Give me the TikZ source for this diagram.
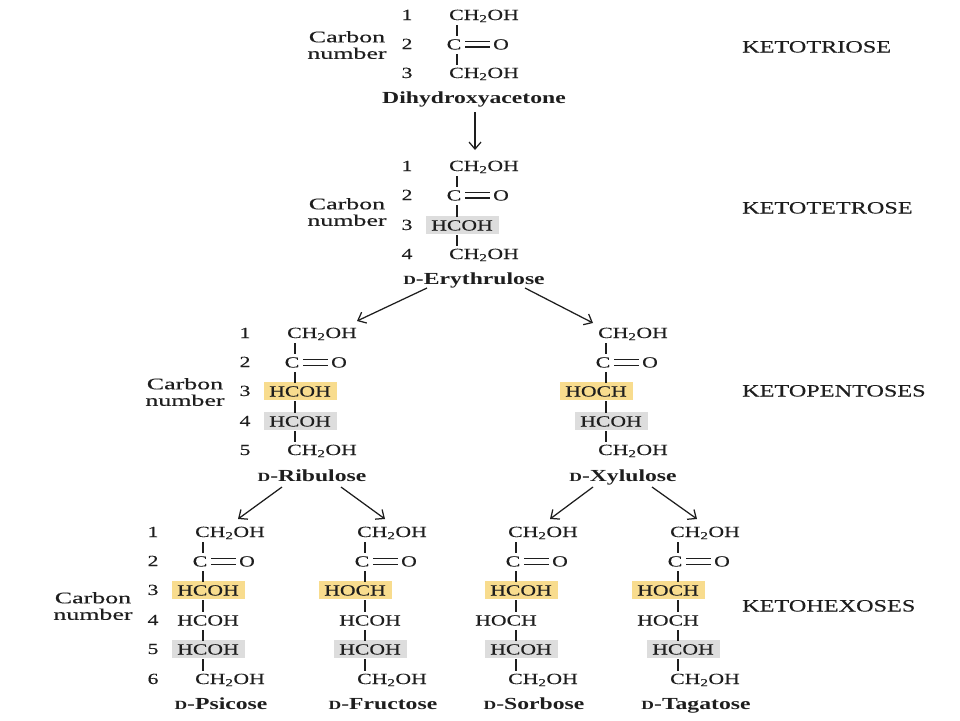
\documentclass[tikz,border=0pt]{standalone}
\usepackage{fontspec}
\setmainfont[FakeStretch=1.4,UprightFeatures={FakeBold=0.25}]{Liberation Serif}
\newfontfamily\cnfont[FakeStretch=1.6,FakeBold=0.25]{Liberation Serif}
\usetikzlibrary{arrows.meta}
\definecolor{ink}{HTML}{1E1E1E}
\definecolor{hlyellow}{HTML}{F8DC8E}
\definecolor{hlgray}{HTML}{DDDDDD}
\tikzset{
  txt/.style={inner sep=0pt,text=ink,font=\fontsize{15.5}{18}\selectfont,anchor=base},
  numlab/.style={txt,font=\fontsize{15.5}{18}\selectfont},
  kind/.style={txt,anchor=base west,font=\fontsize{17.3}{18}\selectfont},
  sugar/.style={txt,font=\bfseries\fontsize{16.9}{18}\selectfont},
  cnum/.style={txt,align=center,anchor=center,font=\cnfont\fontsize{16.2}{16.5}\selectfont},
  hlbox/.style={minimum width=73pt,minimum height=18pt,inner sep=0pt,anchor=center},
  yel/.style={hlbox,fill=hlyellow},
  gry/.style={hlbox,fill=hlgray},
  plain/.style={hlbox},
  bond/.style={draw=ink,line width=1.3pt,shorten <=10pt,shorten >=8.5pt},
  dbl/.style={draw=ink,line width=1.1pt,shorten <=4pt,shorten >=3pt},
  arr/.style={draw=ink,line width=1.25pt,-{Straight Barb[length=7pt,width=12pt,line width=1.25pt]}}
}
\newcommand{\smD}{{\fontsize{12.5}{12}\selectfont D}}
\newcommand{\rowCH}[4]{% prefix, index, bond x, y
  \coordinate (#1#2) at (#3,#4);
  \node[txt] (#1t#2) at ({#3+27},{#4+5}) {CH\textsubscript{2}OH};}
\newcommand{\rowCO}[4]{%
  \coordinate (#1#2) at (#3,#4);
  \node[txt] (#1c#2) at ({#3-3},{#4+5.5}) {C};
  \node[txt] (#1o#2) at ({#3+44},{#4+5.5}) {O};
  \draw[dbl,transform canvas={yshift=2.6pt}] (#1c#2.east) -- (#1o#2.west);
  \draw[dbl,transform canvas={yshift=-2.6pt}] (#1c#2.east) -- (#1o#2.west);}
\newcommand{\rowR}[5]{% prefix, index, bond x, y, box style : HCOH
  \coordinate (#1#2) at (#3,#4);
  \node[#5] (#1b#2) at ({#3+5},#4) {};
  \node[txt] (#1t#2) at ({#3+5},{#4+5.5}) {HCOH};}
\newcommand{\rowL}[5]{% HOCH
  \coordinate (#1#2) at (#3,#4);
  \node[#5] (#1b#2) at ({#3-10},#4) {};
  \node[txt] (#1t#2) at ({#3-10},{#4+5.5}) {HOCH};}
\begin{document}
\begin{tikzpicture}[x=1pt,y=-1pt]
\useasboundingbox (0,0) rectangle (960,720);
% ketotriose
\foreach \i/\y in {1/15,2/44,3/73}{\node[numlab] (na\i) at (407,{\y+5}) {\i};}
\node[cnum] (ca) at (347,45) {Carbon\\number};
\rowCH{a}{1}{457}{15}\rowCO{a}{2}{457}{44}\rowCH{a}{3}{457}{73}
\draw[bond] (a1) -- (a2); \draw[bond] (a2) -- (a3);
\node[sugar] (dha) at (474,103) {Dihydroxyacetone};
\node[kind] (k1) at (742,52.5) {KETOTRIOSE};
% ketotetrose
\foreach \i/\y in {1/166,2/195,3/225,4/254}{\node[numlab] (nb\i) at (407,{\y+5}) {\i};}
\node[cnum] (cb) at (347,212) {Carbon\\number};
\rowCH{b}{1}{457}{166}\rowCO{b}{2}{457}{195}\rowR{b}{3}{457}{225}{gry}\rowCH{b}{4}{457}{254}
\draw[bond] (b1) -- (b2); \draw[bond] (b2) -- (b3); \draw[bond] (b3) -- (b4);
\node[sugar] (ery) at (474,284) {\smD-Erythrulose};
\node[kind] (k2) at (742,213.5) {KETOTETROSE};
% ketopentoses
\foreach \i/\y in {1/333,2/362,3/391,4/421,5/450}{\node[numlab] (nc\i) at (245,{\y+5}) {\i};}
\node[cnum] (cc) at (185,392) {Carbon\\number};
\rowCH{c}{1}{295}{333}\rowCO{c}{2}{295}{362}\rowR{c}{3}{295}{391}{yel}\rowR{c}{4}{295}{421}{gry}\rowCH{c}{5}{295}{450}
\draw[bond] (c1) -- (c2); \draw[bond] (c2) -- (c3); \draw[bond] (c3) -- (c4); \draw[bond] (c4) -- (c5);
\node[sugar] (rib) at (312,481) {\smD-Ribulose};
\rowCH{d}{1}{606}{333}\rowCO{d}{2}{606}{362}\rowL{d}{3}{606}{391}{yel}\rowR{d}{4}{606}{421}{gry}\rowCH{d}{5}{606}{450}
\draw[bond] (d1) -- (d2); \draw[bond] (d2) -- (d3); \draw[bond] (d3) -- (d4); \draw[bond] (d4) -- (d5);
\node[sugar] (xyl) at (623,481) {\smD-Xylulose};
\node[kind] (k3) at (742,396.5) {KETOPENTOSES};
% ketohexoses
\foreach \i/\y in {1/532,2/561,3/590,4/620,5/649,6/679}{\node[numlab] (ne\i) at (153,{\y+5}) {\i};}
\node[cnum] (ce) at (93,606) {Carbon\\number};
\rowCH{e}{1}{203}{532}\rowCO{e}{2}{203}{561}\rowR{e}{3}{203}{590}{yel}\rowR{e}{4}{203}{620}{plain}\rowR{e}{5}{203}{649}{gry}\rowCH{e}{6}{203}{679}
\rowCH{f}{1}{365}{532}\rowCO{f}{2}{365}{561}\rowL{f}{3}{365}{590}{yel}\rowR{f}{4}{365}{620}{plain}\rowR{f}{5}{365}{649}{gry}\rowCH{f}{6}{365}{679}
\rowCH{g}{1}{516}{532}\rowCO{g}{2}{516}{561}\rowR{g}{3}{516}{590}{yel}\rowL{g}{4}{516}{620}{plain}\rowR{g}{5}{516}{649}{gry}\rowCH{g}{6}{516}{679}
\rowCH{h}{1}{678}{532}\rowCO{h}{2}{678}{561}\rowL{h}{3}{678}{590}{yel}\rowL{h}{4}{678}{620}{plain}\rowR{h}{5}{678}{649}{gry}\rowCH{h}{6}{678}{679}
\foreach \p in {e,f,g,h}{
  \draw[bond] (\p1) -- (\p2); \draw[bond] (\p2) -- (\p3); \draw[bond] (\p3) -- (\p4);
  \draw[bond] (\p4) -- (\p5); \draw[bond] (\p5) -- (\p6);
}
\node[sugar] (psi) at (221,709) {\smD-Psicose};
\node[sugar] (fru) at (383,709) {\smD-Fructose};
\node[sugar] (sor) at (534,709) {\smD-Sorbose};
\node[sugar] (tag) at (696,709) {\smD-Tagatose};
\node[kind] (k4) at (742,611.5) {KETOHEXOSES};
% arrows
\coordinate (u1) at (475,112); \coordinate (v1) at (475,150);
\coordinate (u2) at (427,288); \coordinate (v2) at (357,321);
\coordinate (u3) at (525,288); \coordinate (v3) at (593,323);
\coordinate (u4) at (282,487); \coordinate (v4) at (238,519);
\coordinate (u5) at (341,487); \coordinate (v5) at (385,519);
\coordinate (u6) at (593,487); \coordinate (v6) at (550,519);
\coordinate (u7) at (652,487); \coordinate (v7) at (697,519);
\foreach \k in {1,...,7}{\draw[arr] (u\k) -- (v\k);}
\end{tikzpicture}
\end{document}
